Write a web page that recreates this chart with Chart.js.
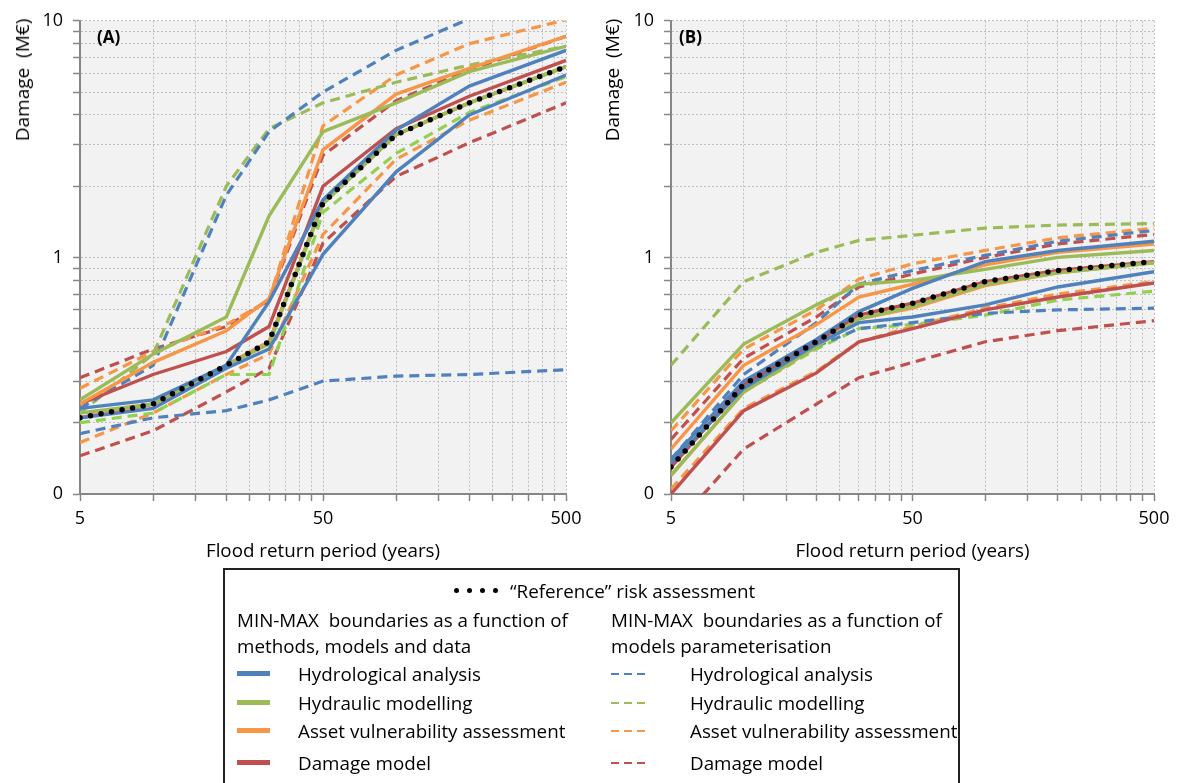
<!DOCTYPE html>
<html>
<head>
<meta charset="utf-8">
<script src="https://cdn.jsdelivr.net/npm/chart.js@4.4.0/dist/chart.umd.min.js"></script>
<style>
  body { margin: 0; background: #fff; width: 1178px; height: 783px; overflow: hidden; position: relative; font-family: "Open Sans", sans-serif; color: #000; }
  canvas { position: absolute; top: 0; }
  .ytitle { position: absolute; top: 80px; transform: translate(-50%, -50%) rotate(-90deg); font-size: 19px; white-space: pre; }
  .tag { position: absolute; top: 25px; font-weight: bold; font-size: 17px; }
  #legend { position: absolute; left: 223px; top: 568px; width: 733px; height: 240px; border: 2px solid #222; font-size: 18.8px; }
  #legend div { position: absolute; white-space: nowrap; line-height: 24px; }
  .solid { height: 5px; width: 33px; }
  .dash { height: 2px; width: 8px; }
  .dot { width: 5px; height: 5px; border-radius: 50%; background: #000; }
</style>
</head>
<body>
<canvas id="chartA" width="590" height="575" style="left:0"></canvas>
<canvas id="chartB" width="588" height="575" style="left:590px"></canvas>
<div class="ytitle" style="left:22px">Damage  (M€)</div>
<div class="ytitle" style="left:612px">Damage  (M€)</div>
<div class="tag" style="left:97px">(A)</div>
<div class="tag" style="left:679px">(B)</div>
<div id="legend"></div>
<script>
// Return periods (years)
const returnPeriods = [5, 10, 20, 30, 50, 100, 200, 500];

// Panel A - reference and MIN-MAX by methods, models and data (solid)
const refA = [0.21, 0.24, 0.35, 0.44, 1.7, 3.3, 4.5, 6.4];
const hydroMinA = [0.21, 0.23, 0.34, 0.41, 1.03, 2.3, 4.0, 5.9];
const hydroMaxA = [0.23, 0.25, 0.35, 0.65, 1.75, 3.45, 5.3, 7.5];
const hydraulicMinA = [0.22, 0.24, 0.35, 0.43, 1.68, 3.3, 4.5, 6.4];
const hydraulicMaxA = [0.25, 0.39, 0.56, 1.5, 3.4, 4.5, 6.1, 7.8];
const assetMinA = [0.21, 0.24, 0.35, 0.44, 1.7, 3.3, 4.5, 6.4];
const assetMaxA = [0.24, 0.36, 0.49, 0.67, 2.85, 4.9, 6.3, 8.6];
const damageMinA = [0.21, 0.24, 0.35, 0.44, 1.7, 3.3, 4.5, 6.4];
const damageMaxA = [0.24, 0.32, 0.40, 0.51, 2.0, 3.5, 4.8, 6.8];
// Panel A - MIN-MAX by models parameterisation (dashed)
const hydroLoA = [0.18, 0.21, 0.225, 0.25, 0.30, 0.315, 0.32, 0.335];
const hydroHiA = [0.23, 0.35, 1.83, 3.4, 5.0, 7.5, 10.2, 13];
const hydraulicLoA = [0.2, 0.22, 0.32, 0.32, 1.55, 2.75, 4.1, 5.8];
const hydraulicHiA = [0.22, 0.39, 2.0, 3.5, 4.5, 5.5, 6.5, 7.8];
const assetLoA = [0.165, 0.22, 0.32, 0.39, 1.25, 2.6, 3.8, 5.5];
const assetHiA = [0.28, 0.40, 0.52, 0.66, 3.6, 5.9, 8.0, 10.1];
const damageLoA = [0.145, 0.185, 0.27, 0.34, 1.15, 2.2, 3.05, 4.5];
const damageHiA = [0.31, 0.41, 0.51, 0.66, 2.7, 4.6, 6.2, 8.6];

// Panel B
const refB = [0.13, 0.29, 0.44, 0.57, 0.64, 0.79, 0.88, 0.96];
const hydroMinB = [0.135, 0.28, 0.43, 0.53, 0.56, 0.63, 0.75, 0.87];
const hydroMaxB = [0.14, 0.30, 0.45, 0.59, 0.74, 0.96, 1.07, 1.17];
const hydraulicMinB = [0.12, 0.27, 0.42, 0.55, 0.62, 0.77, 0.86, 0.95];
const hydraulicMaxB = [0.2, 0.43, 0.63, 0.77, 0.80, 0.89, 1.0, 1.07];
const assetMinB = [0.12, 0.27, 0.42, 0.55, 0.61, 0.76, 0.86, 0.95];
const assetMaxB = [0.155, 0.35, 0.52, 0.68, 0.77, 0.93, 1.05, 1.14];
const damageMinB = [0.1, 0.225, 0.325, 0.44, 0.50, 0.60, 0.68, 0.78];
const damageMaxB = [0.13, 0.29, 0.44, 0.57, 0.64, 0.79, 0.88, 0.96];
const hydroLoB = [0.13, 0.29, 0.42, 0.5, 0.53, 0.58, 0.6, 0.61];
const hydroHiB = [0.14, 0.32, 0.53, 0.77, 0.88, 1.02, 1.17, 1.3];
const hydraulicLoB = [0.12, 0.27, 0.41, 0.50, 0.52, 0.57, 0.66, 0.72];
const hydraulicHiB = [0.35, 0.79, 1.05, 1.18, 1.24, 1.33, 1.37, 1.39];
const assetLoB = [0.105, 0.23, 0.33, 0.44, 0.51, 0.61, 0.70, 0.79];
const assetHiB = [0.185, 0.41, 0.6, 0.81, 0.94, 1.07, 1.21, 1.33];
const damageLoB = [0.07, 0.155, 0.24, 0.31, 0.36, 0.44, 0.49, 0.54];
const damageHiB = [0.17, 0.375, 0.56, 0.75, 0.85, 1.0, 1.14, 1.25];

// Axis ticks
const xTicks = [5, 10, 15, 20, 25, 30, 35, 40, 45, 50, 100, 150, 200, 250, 300, 350, 400, 450, 500];
const xTickLabels = [5, 50, 500];
const yTicks = [0.1, 0.2, 0.3, 0.4, 0.5, 0.6, 0.7, 0.8, 0.9, 1, 2, 3, 4, 5, 6, 7, 8, 9, 10];
const yTickLabels = { 0.1: '0', 1: '1', 10: '10' };

const categories = ['Hydrological analysis', 'Hydraulic modelling', 'Asset vulnerability assessment', 'Damage model'];
const solidColors = ['#4F81BD', '#9BBB59', '#F79646', '#C0504D'];
const dashColors = ['#4F81BD', '#9BBB59', '#F79646', '#C0504D'];
const dashLoColors = ['#4F81BD', '#92D050', '#F79646', '#C0504D'];

Chart.defaults.font.family = '"Open Sans", sans-serif';
Chart.defaults.color = '#000';

const plotBg = {
  id: 'plotBg',
  beforeDraw(chart) {
    const { ctx, chartArea: a } = chart;
    ctx.save();
    ctx.fillStyle = '#f2f2f2';
    ctx.fillRect(a.left, a.top, a.width, a.height);
    ctx.restore();
  }
};

function pts(values) {
  return values.map((v, i) => ({ x: returnPeriods[i], y: v }));
}

function makeDatasets(ref, solids, dashes) {
  const sets = [];
  sets.push({ data: pts(ref), borderColor: '#000', borderWidth: 5.5, borderDash: [0, 10.7], borderCapStyle: 'round' });
  // solid lines drawn above dashed
  solids.forEach((pair, i) => {
    pair.forEach(vals => sets.push({ data: pts(vals), borderColor: solidColors[i], borderWidth: 3.4 }));
  });
  dashes.forEach((pair, i) => {
    sets.push({ data: pts(pair[0]), borderColor: dashLoColors[i], borderWidth: 3.2, borderDash: [10, 6] });
    sets.push({ data: pts(pair[1]), borderColor: dashColors[i], borderWidth: 3.2, borderDash: [10, 6] });
  });
  sets.forEach(s => { s.pointRadius = 0; s.tension = 0; s.fill = false; s.clip = 0; });
  return sets;
}

function makeChart(id, yWidth, datasets) {
  return new Chart(document.getElementById(id), {
    type: 'line',
    data: { datasets },
    options: {
      responsive: false,
      animation: false,
      layout: { padding: { top: 17, right: 24, bottom: 0, left: 0 } },
      plugins: { legend: { display: false }, tooltip: { enabled: false } },
      scales: {
        x: {
          type: 'logarithmic', min: 5, max: 500,
          afterBuildTicks: s => { s.ticks = xTicks.map(v => ({ value: v })); },
          afterFit: s => { s.height = 81; },
          ticks: {
            autoSkip: false, maxRotation: 0, padding: 7, font: { size: 18 },
            callback: v => xTickLabels.includes(v) ? String(v) : ''
          },
          grid: { color: '#bfbfbf', lineWidth: 1, tickLength: 7, tickColor: '#868686', tickWidth: 1.5, tickBorderDash: [] },
          border: { color: '#868686', width: 2, dash: [2, 2] },
          title: { display: true, text: 'Flood return period (years)', font: { size: 18.8 }, padding: { top: 0, bottom: 12 } }
        },
        y: {
          type: 'logarithmic', min: 0.1, max: 10,
          afterBuildTicks: s => { s.ticks = yTicks.map(v => ({ value: v })); },
          afterFit: s => { s.width = yWidth; },
          ticks: {
            autoSkip: false, padding: 10, font: { size: 18 },
            callback: v => yTickLabels[v] !== undefined ? yTickLabels[v] : ''
          },
          grid: { color: '#bfbfbf', lineWidth: 1, tickLength: 7, tickColor: '#868686', tickWidth: 1.5, tickBorderDash: [] },
          border: { color: '#868686', width: 2, dash: [2, 2] }
        }
      }
    },
    plugins: [plotBg]
  });
}

makeChart('chartA', 80, makeDatasets(refA,
  [[hydroMinA, hydroMaxA], [hydraulicMinA, hydraulicMaxA], [assetMinA, assetMaxA], [damageMinA, damageMaxA]],
  [[hydroLoA, hydroHiA], [hydraulicLoA, hydraulicHiA], [assetLoA, assetHiA], [damageLoA, damageHiA]]));

makeChart('chartB', 81, makeDatasets(refB,
  [[hydroMinB, hydroMaxB], [hydraulicMinB, hydraulicMaxB], [assetMinB, assetMaxB], [damageMinB, damageMaxB]],
  [[hydroLoB, hydroHiB], [hydraulicLoB, hydraulicHiB], [assetLoB, assetHiB], [damageLoB, damageHiB]]));

// Legend
const legend = document.getElementById('legend');
function add(html, left, cy) {
  const d = document.createElement('div');
  d.style.left = left + 'px';
  d.style.top = (cy - 12) + 'px';
  d.innerHTML = html;
  legend.appendChild(d);
  return d;
}
for (let k = 0; k < 4; k++) {
  const dot = document.createElement('div');
  dot.className = 'dot';
  dot.style.left = (229 + k * 13) + 'px';
  dot.style.top = '18px';
  legend.appendChild(dot);
}
add('\u201cReference\u201d risk assessment', 285, 21);
add('MIN-MAX &nbsp;boundaries as a function of', 12, 50);
add('methods, models and data', 12, 76);
add('MIN-MAX &nbsp;boundaries as a function of', 386, 50);
add('models parameterisation', 386, 76);
const rowY = [104, 133, 161, 193];
categories.forEach((name, i) => {
  const s = document.createElement('div');
  s.className = 'solid';
  s.style.left = '12px';
  s.style.top = (rowY[i] - 3) + 'px';
  s.style.background = solidColors[i];
  legend.appendChild(s);
  add(name, 73, rowY[i]);
  for (let k = 0; k < 3; k++) {
    const d = document.createElement('div');
    d.className = 'dash';
    d.style.left = (386 + k * 13) + 'px';
    d.style.top = (rowY[i] - 1) + 'px';
    d.style.background = dashColors[i];
    legend.appendChild(d);
  }
  add(name, 465, rowY[i]);
});
</script>
</body>
</html>
